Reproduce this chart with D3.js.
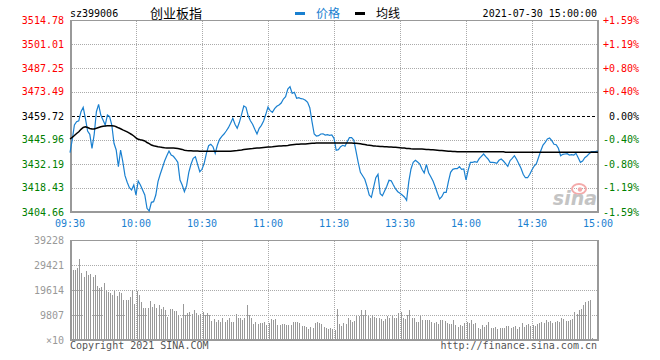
<!DOCTYPE html>
<html>
<head>
<meta charset="utf-8">
<script src="https://cdn.jsdelivr.net/npm/d3@7"></script>
<style>
  body { margin: 0; background: #fff; }
  svg { display: block; }
  text { font-family: "DejaVu Sans Mono", monospace; font-size: 10px; }
</style>
</head>
<body>
<div id="chart"></div>
<script>
const symbol = "sz399006";
const title = "创业板指";
const stamp = "2021-07-30 15:00:00";
const prevClose = 3459.72;

const priceTicks = [3514.78, 3501.01, 3487.25, 3473.49, 3459.72, 3445.96, 3432.19, 3418.43, 3404.66];
const pctLabels = ["+1.59%", "+1.19%", "+0.80%", "+0.40%", "0.00%", "-0.40%", "-0.80%", "-1.19%", "-1.59%"];
const timeLabels = ["09:30", "10:00", "10:30", "11:00", "11:30", "13:30", "14:00", "14:30", "15:00"];
const timeIndex = [0, 30, 60, 90, 120, 150, 180, 210, 240];
const volTicks = [39228, 29421, 19614, 9807, 0];
const volLabels = ["39228", "29421", "19614", "9807", "×10"];

// one value per minute, 09:30-11:30 then 13:01-15:00
const prices = [
  3438.67, 3445.95, 3454.55, 3456.45, 3457.00, 3462.18, 3464.71, 3458.40, 3451.11, 3449.22,
  3441.19, 3449.22, 3462.18, 3466.43, 3460.29, 3457.42, 3454.55, 3460.29, 3459.31, 3454.55,
  3444.06, 3440.22, 3430.64, 3440.22, 3433.51, 3425.48, 3421.69, 3418.60, 3417.28, 3420.14,
  3414.41, 3422.44, 3420.14, 3417.28, 3414.41, 3406.78, 3405.23, 3410.22, 3410.57, 3414.41,
  3422.04, 3426.28, 3430.07, 3433.91, 3436.95, 3439.64, 3437.35, 3436.60, 3435.06, 3433.16,
  3423.01, 3420.14, 3416.30, 3419.74, 3427.43, 3432.02, 3435.46, 3436.37, 3432.02, 3427.77,
  3429.15, 3432.59, 3438.32, 3442.68, 3443.49, 3442.11, 3438.32, 3443.08, 3446.35, 3448.07,
  3449.39, 3451.11, 3453.01, 3455.53, 3458.40, 3454.96, 3452.66, 3456.10, 3460.69, 3465.45,
  3464.71, 3459.80, 3457.02, 3454.96, 3452.09, 3449.39, 3452.66, 3454.38, 3456.85, 3460.69,
  3464.88, 3462.76, 3461.84, 3463.90, 3465.28, 3466.02, 3467.17, 3469.47, 3470.78, 3475.20,
  3476.52, 3472.73, 3473.31, 3469.87, 3470.21, 3469.64, 3469.47, 3468.72, 3467.57, 3464.48,
  3456.45, 3449.39, 3448.25, 3448.42, 3449.39, 3449.50, 3448.82, 3448.99, 3448.65, 3448.82,
  3446.93, 3440.04, 3440.39, 3442.11, 3442.91, 3442.34, 3444.98, 3447.27, 3447.27, 3445.95,
  3439.64, 3433.16, 3427.43, 3425.48, 3423.41, 3419.40, 3414.41, 3413.09, 3418.83, 3424.33,
  3426.28, 3415.16, 3414.01, 3416.70, 3419.40, 3422.84, 3422.61, 3420.14, 3417.85, 3416.30,
  3415.38, 3414.41, 3413.26, 3411.37, 3422.04, 3429.32, 3433.16, 3434.31, 3433.34, 3432.19,
  3429.15, 3427.03, 3432.02, 3427.20, 3424.90, 3422.44, 3419.17, 3415.38, 3412.12, 3413.43,
  3415.96, 3415.96, 3422.04, 3427.43, 3429.15, 3429.49, 3429.49, 3430.64, 3429.15, 3429.32,
  3423.01, 3428.75, 3433.16, 3433.16, 3433.51, 3433.16, 3435.23, 3436.60, 3437.92, 3436.37,
  3435.06, 3433.16, 3433.16, 3432.93, 3432.59, 3434.31, 3435.06, 3433.91, 3432.36, 3430.87,
  3434.08, 3435.46, 3436.95, 3434.88, 3432.36, 3429.72, 3426.28, 3424.33, 3424.33, 3426.28,
  3428.92, 3431.04, 3432.36, 3436.03, 3439.82, 3443.08, 3444.63, 3446.53, 3447.10, 3445.55,
  3443.49, 3443.26, 3441.19, 3436.95, 3437.75, 3437.92, 3438.10, 3437.35, 3437.52, 3437.35,
  3438.32, 3435.80, 3433.16, 3433.91, 3435.80, 3436.78, 3438.10, 3439.24, 3439.24, 3439.40,
  3439.64
];

const avgPrices = [
  3446.53, 3447.50, 3448.53, 3449.68, 3450.71, 3452.09, 3453.12, 3453.52, 3453.12, 3452.60,
  3452.26, 3452.26, 3452.66, 3453.12, 3453.52, 3453.81, 3453.98, 3454.10, 3454.15, 3454.15,
  3454.04, 3453.58, 3452.95, 3452.43, 3451.80, 3451.23, 3450.60, 3449.85, 3449.11, 3448.25,
  3447.21, 3446.35, 3446.07, 3445.84, 3445.38, 3444.52, 3443.89, 3443.08, 3442.68, 3442.40,
  3442.11, 3441.88, 3441.71, 3441.54, 3441.42, 3441.36, 3441.36, 3441.36, 3441.19, 3441.02,
  3440.85, 3440.56, 3440.10, 3439.93, 3439.82, 3439.76, 3439.64, 3439.64, 3439.58, 3439.53,
  3439.47, 3439.47, 3439.47, 3439.47, 3439.47, 3439.47, 3439.47, 3439.47, 3439.47, 3439.47,
  3439.47, 3439.47, 3439.47, 3439.47, 3439.64, 3439.82, 3439.93, 3440.10, 3440.22, 3440.45,
  3440.62, 3440.79, 3440.91, 3441.02, 3441.19, 3441.31, 3441.42, 3441.54, 3441.65, 3441.76,
  3441.88, 3441.99, 3442.11, 3442.28, 3442.40, 3442.45, 3442.51, 3442.63, 3442.68, 3442.86,
  3443.08, 3443.26, 3443.43, 3443.49, 3443.54, 3443.60, 3443.66, 3443.66, 3443.83, 3443.94,
  3444.06, 3444.12, 3444.17, 3444.23, 3444.23, 3444.23, 3444.23, 3444.23, 3444.23, 3444.23,
  3444.23, 3444.23, 3444.23, 3444.23, 3444.23, 3444.23, 3444.23, 3444.23, 3444.17, 3444.12,
  3444.06, 3443.94, 3443.77, 3443.54, 3443.31, 3443.08, 3442.91, 3442.74, 3442.57, 3442.45,
  3442.40, 3442.28, 3442.22, 3442.11, 3442.05, 3441.99, 3441.94, 3441.82, 3441.76, 3441.65,
  3441.54, 3441.42, 3441.31, 3441.13, 3441.02, 3440.91, 3440.85, 3440.79, 3440.79, 3440.79,
  3440.73, 3440.68, 3440.56, 3440.50, 3440.39, 3440.33, 3440.22, 3440.10, 3439.99, 3439.87,
  3439.76, 3439.64, 3439.53, 3439.47, 3439.41, 3439.36, 3439.24, 3439.24, 3439.24, 3439.24,
  3439.24, 3439.24, 3439.24, 3439.24, 3439.24, 3439.24, 3439.24, 3439.24, 3439.24, 3439.24,
  3439.24, 3439.24, 3439.24, 3439.24, 3439.24, 3439.24, 3439.24, 3439.18, 3438.96, 3438.90,
  3438.90, 3438.90, 3438.90, 3438.90, 3438.90, 3438.90, 3438.90, 3438.90, 3438.90, 3438.90,
  3438.90, 3438.90, 3438.90, 3438.90, 3438.90, 3438.90, 3438.90, 3438.90, 3438.90, 3438.90,
  3438.90, 3438.90, 3438.90, 3438.90, 3438.90, 3438.90, 3438.90, 3438.90, 3438.90, 3438.90,
  3438.90, 3438.90, 3438.90, 3438.90, 3438.90, 3438.90, 3438.90, 3438.90, 3438.90, 3438.90,
  3438.90
];

// volume in units of 10 (axis shows ×10)
const volumes = [
  0, 27400, 27500, 28400, 31900, 26400, 24700, 27070, 25500, 25800,
  24600, 25500, 21300, 20500, 20900, 22500, 19600, 18900, 18300, 17600,
  19400, 17300, 18900, 18300, 15700, 15700, 15700, 17000, 19600, 14100,
  19300, 17600, 15000, 12400, 12700, 12700, 15300, 13100, 14100, 12700,
  13700, 12000, 13100, 11800, 9200, 12200, 12200, 11400, 11400, 9800,
  8800, 14100, 9800, 10500, 10900, 10100, 11800, 10500, 9800, 10100,
  11000, 9800, 10500, 9800, 7500, 8200, 7200, 7800, 7000, 8500,
  7190, 7850, 8500, 7190, 7190, 10070, 8760, 8500, 7850, 8500,
  13730, 9810, 8500, 6150, 6930, 6280, 6540, 6540, 7190, 5880,
  6540, 8240, 7850, 8110, 5880, 5880, 6150, 6150, 5880, 5880,
  5880, 6930, 6930, 6930, 6540, 5490, 5490, 4970, 4180, 4970,
  4580, 6540, 6930, 6540, 6150, 5230, 4580, 4310, 4580, 4180,
  3920, 12160, 6150, 5620, 6540, 6150, 8500, 7850, 7190, 7450,
  9410, 9540, 11770, 9810, 11770, 9540, 8760, 9810, 9020, 8760,
  8500, 8240, 7450, 8240, 9540, 8760, 9540, 8760, 8500, 10460,
  10850, 8500, 8240, 9810, 11770, 8760, 8500, 7190, 7190, 9540,
  7850, 7850, 7850, 7850, 6930, 6540, 7190, 6150, 7850, 7850,
  7450, 6540, 6150, 6150, 7850, 5880, 5230, 5880, 5490, 6540,
  7190, 6540, 7850, 6150, 6670, 4580, 4180, 5880, 5230, 5880,
  7190, 4580, 4580, 4970, 4310, 4580, 4580, 4840, 5490, 5490,
  4580, 5230, 5620, 4310, 5230, 6540, 5230, 5880, 6150, 5490,
  5880, 5620, 6150, 6540, 6930, 6800, 7850, 7190, 7450, 6540,
  6930, 7450, 7190, 8500, 8240, 7450, 7450, 7850, 8110, 10850,
  10070, 11900, 12160, 13730, 15040, 15300, 15690, 650, 0, 0,
  0
];

const blue = "#1a80d0";
const frameColor = "#999";
const gridColor = "#aaa";

const svg = d3.select("#chart")
  .append("svg")
  .attr("width", 660)
  .attr("height", 360);

const x = d3.scaleLinear().domain([0, 240]).range([70, 598]);
const y = d3.scaleLinear().domain([3404.66, 3514.78]).range([212, 20]);
const yv = d3.scaleLinear().domain([0, 39228]).range([340, 240]);

const crisp = v => Math.round(v) + 0.5;

function tickColor(v) {
  if (v > prevClose) return "#f00";
  if (v < prevClose) return "#008000";
  return "#000";
}

// header
svg.append("text").attr("x", 70).attr("y", 16.5).text(symbol);
svg.append("text").attr("x", 150).attr("y", 18)
  .style("font-family", "'Noto Sans CJK SC', sans-serif").style("font-size", "13px")
  .text(title);

svg.append("rect").attr("x", 295).attr("y", 12).attr("width", 10).attr("height", 3).attr("fill", blue);
svg.append("text").attr("x", 316).attr("y", 17.5).attr("fill", blue)
  .style("font-family", "'Noto Sans CJK SC', sans-serif").style("font-size", "12px")
  .text("价格");
svg.append("rect").attr("x", 355).attr("y", 12).attr("width", 10).attr("height", 3).attr("fill", "#000");
svg.append("text").attr("x", 376).attr("y", 17.5).attr("fill", "#000")
  .style("font-family", "'Noto Sans CJK SC', sans-serif").style("font-size", "12px")
  .text("均线");

svg.append("text").attr("x", 597).attr("y", 16.5).attr("text-anchor", "end").text(stamp);

// grids, price panel
const grid = svg.append("g")
  .attr("stroke", gridColor)
  .attr("stroke-dasharray", "1,1")
  .attr("shape-rendering", "crispEdges");

grid.selectAll("line.h")
  .data(priceTicks.filter((v, i) => i > 0 && i < priceTicks.length - 1 && v !== prevClose))
  .enter().append("line")
  .attr("x1", 72).attr("x2", 597)
  .attr("y1", d => crisp(y(d))).attr("y2", d => crisp(y(d)));

grid.selectAll("line.v")
  .data(timeIndex.slice(1, -1))
  .enter().append("line")
  .attr("x1", d => crisp(x(d))).attr("x2", d => crisp(x(d)))
  .attr("y1", 21).attr("y2", 211);

// grids, volume panel
grid.selectAll("line.vh")
  .data(volTicks.slice(1, -1))
  .enter().append("line")
  .attr("x1", 72).attr("x2", 597)
  .attr("y1", d => crisp(yv(d))).attr("y2", d => crisp(yv(d)));

grid.selectAll("line.vv")
  .data(timeIndex.slice(1, -1))
  .enter().append("line")
  .attr("x1", d => crisp(x(d))).attr("x2", d => crisp(x(d)))
  .attr("y1", 241).attr("y2", 339);

// watermark
const wm = svg.append("g");
wm.append("ellipse").attr("cx", 579).attr("cy", 189).attr("rx", 7).attr("ry", 5)
  .attr("fill", "none").attr("stroke", "#f4aaaa").attr("stroke-width", 2);
wm.append("circle").attr("cx", 580).attr("cy", 189.5).attr("r", 2.2).attr("fill", "#f4aaaa");
wm.append("text").attr("x", 597).attr("y", 205).attr("text-anchor", "end")
  .attr("fill", "#c4c4c4")
  .style("font-family", "'DejaVu Sans', sans-serif").style("font-size", "19px")
  .style("font-weight", "bold").style("font-style", "italic")
  .text("sina");

// volume bars
svg.append("g")
  .attr("fill", "#999")
  .attr("shape-rendering", "crispEdges")
  .selectAll("rect")
  .data(volumes.map((v, i) => ({ v, i })).filter(d => d.v > 0))
  .enter().append("rect")
  .attr("x", d => Math.floor(x(d.i)) + 1)
  .attr("width", 1)
  .attr("y", d => Math.round(yv(d.v)))
  .attr("height", d => 340 - Math.round(yv(d.v)));

// frames
function frame(top, bottom) {
  const g = svg.append("g").attr("stroke", frameColor).attr("shape-rendering", "crispEdges");
  g.append("line").attr("x1", 70).attr("x2", 599).attr("y1", top + 0.5).attr("y2", top + 0.5);
  g.append("line").attr("x1", 70).attr("x2", 599).attr("y1", bottom).attr("y2", bottom).attr("stroke-width", 2);
  g.append("line").attr("x1", 71).attr("x2", 71).attr("y1", top).attr("y2", bottom + 1).attr("stroke-width", 2);
  g.append("line").attr("x1", 598).attr("x2", 598).attr("y1", top).attr("y2", bottom + 1).attr("stroke-width", 2);
}
frame(20, 212);
frame(240, 340);

// previous close
svg.append("line")
  .attr("x1", 72).attr("x2", 597)
  .attr("y1", crisp(y(prevClose))).attr("y2", crisp(y(prevClose)))
  .attr("stroke", "#000").attr("stroke-dasharray", "3,2")
  .attr("shape-rendering", "crispEdges");

// price and average lines
const line = d3.line().x((d, i) => x(i)).y(d => y(d));

svg.append("path")
  .datum(prices)
  .attr("d", line)
  .attr("fill", "none")
  .attr("stroke", blue)
  .attr("stroke-width", 1.2);

svg.append("path")
  .datum(avgPrices)
  .attr("d", line)
  .attr("fill", "none")
  .attr("stroke", "#000")
  .attr("stroke-width", 1.5);

// left price labels
svg.append("g").selectAll("text")
  .data(priceTicks)
  .enter().append("text")
  .attr("x", 64)
  .attr("y", d => y(d))
  .attr("dy", "0.35em")
  .attr("text-anchor", "end")
  .attr("fill", d => tickColor(d))
  .text(d => d.toFixed(2));

// right percent labels
svg.append("g").selectAll("text")
  .data(priceTicks)
  .enter().append("text")
  .attr("x", 639)
  .attr("y", d => y(d))
  .attr("dy", "0.35em")
  .attr("text-anchor", "end")
  .attr("fill", d => tickColor(d))
  .text((d, i) => pctLabels[i]);

// time labels
svg.append("g").selectAll("text")
  .data(timeIndex)
  .enter().append("text")
  .attr("x", d => x(d))
  .attr("y", 227)
  .attr("text-anchor", "middle")
  .attr("fill", blue)
  .text((d, i) => timeLabels[i]);

// volume labels
svg.append("g").selectAll("text")
  .data(volTicks)
  .enter().append("text")
  .attr("x", 64)
  .attr("y", d => yv(d))
  .attr("dy", "0.35em")
  .attr("text-anchor", "end")
  .attr("fill", "#999")
  .text((d, i) => volLabels[i]);

// footer
svg.append("text").attr("x", 70).attr("y", 349).attr("fill", "#555").text("Copyright 2021 SINA.COM");
svg.append("text").attr("x", 597).attr("y", 349).attr("text-anchor", "end").attr("fill", "#555")
  .text("http://finance.sina.com.cn");
</script>
</body>
</html>
